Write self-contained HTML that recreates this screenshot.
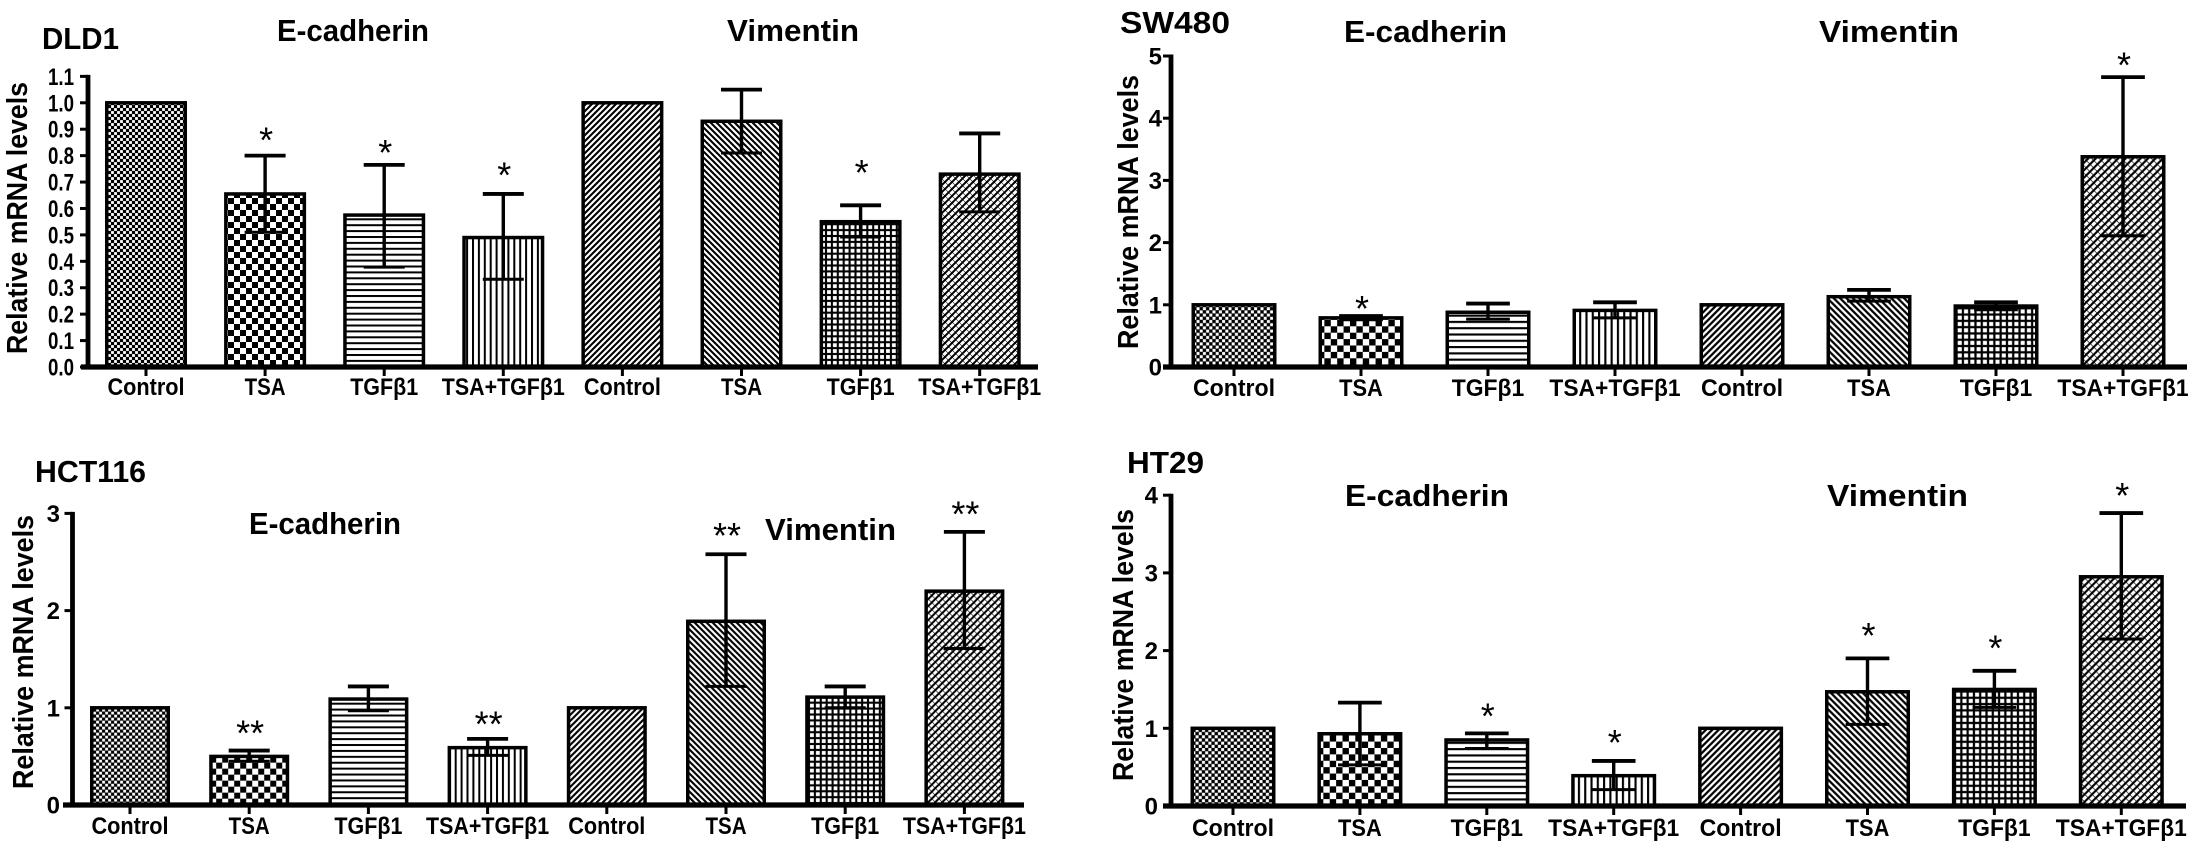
<!DOCTYPE html>
<html lang="en">
<head>
<meta charset="utf-8">
<title>Relative mRNA levels of E-cadherin and Vimentin</title>
<style>
html,body{margin:0;padding:0;background:#fff;}
svg{display:block;}
text{font-family:"Liberation Sans",sans-serif;font-weight:bold;fill:#000;}
</style>
</head>
<body>
<svg id="figure" xmlns="http://www.w3.org/2000/svg" width="2199" height="856" viewBox="0 0 2199 856">
<rect width="2199" height="856" fill="#fff"/>
<defs id="defs"></defs>

<g>
<text x="42" y="49" font-size="31" textLength="77" lengthAdjust="spacingAndGlyphs">DLD1</text>
<text x="277" y="41" font-size="31" textLength="152" lengthAdjust="spacingAndGlyphs">E-cadherin</text>
<text x="727" y="41" font-size="31" textLength="132" lengthAdjust="spacingAndGlyphs">Vimentin</text>
<text transform="translate(27,218) rotate(-90)" text-anchor="middle" font-size="29" textLength="272" lengthAdjust="spacingAndGlyphs">Relative mRNA levels</text>
</g>
<g>
<text x="1120" y="33" font-size="31" textLength="110" lengthAdjust="spacingAndGlyphs">SW480</text>
<text x="1344" y="42" font-size="31" textLength="163" lengthAdjust="spacingAndGlyphs">E-cadherin</text>
<text x="1819" y="42" font-size="31" textLength="140" lengthAdjust="spacingAndGlyphs">Vimentin</text>
<text transform="translate(1138,212) rotate(-90)" text-anchor="middle" font-size="29" textLength="274" lengthAdjust="spacingAndGlyphs">Relative mRNA levels</text>
</g>
<g>
<text x="35" y="482" font-size="31" textLength="111" lengthAdjust="spacingAndGlyphs">HCT116</text>
<text x="249" y="534" font-size="31" textLength="152" lengthAdjust="spacingAndGlyphs">E-cadherin</text>
<text x="765" y="540" font-size="31" textLength="131" lengthAdjust="spacingAndGlyphs">Vimentin</text>
<text transform="translate(33,652) rotate(-90)" text-anchor="middle" font-size="29" textLength="274" lengthAdjust="spacingAndGlyphs">Relative mRNA levels</text>
</g>
<g>
<text x="1127" y="473" font-size="31" textLength="77" lengthAdjust="spacingAndGlyphs">HT29</text>
<text x="1345" y="506" font-size="31" textLength="164" lengthAdjust="spacingAndGlyphs">E-cadherin</text>
<text x="1827" y="506" font-size="31" textLength="141" lengthAdjust="spacingAndGlyphs">Vimentin</text>
<text transform="translate(1133,645) rotate(-90)" text-anchor="middle" font-size="29" textLength="272" lengthAdjust="spacingAndGlyphs">Relative mRNA levels</text>
</g>
</svg>

<script>
// Shared categories
var categories = ["Control", "TSA", "TGFβ1", "TSA+TGFβ1", "Control", "TSA", "TGFβ1", "TSA+TGFβ1"];
var hatchKinds = ["fine", "check", "hlines", "vlines", "diagup", "diagdown", "grid", "hatch"];

// DLD1
var dld1Ticks = ["0.0", "0.1", "0.2", "0.3", "0.4", "0.5", "0.6", "0.7", "0.8", "0.9", "1.0", "1.1"];
var dld1Values = [1.0, 0.655, 0.575, 0.49, 1.0, 0.93, 0.55, 0.73];
var dld1ErrHigh = [null, 0.80, 0.765, 0.655, null, 1.05, 0.612, 0.884];
var dld1ErrLow = [null, 0.51, 0.378, 0.332, null, 0.81, 0.492, 0.587];
var dld1Stars = ["", "*", "*", "*", "", "", "*", ""];
var dld1StarLevels = [null, 0.883, 0.836, 0.751, null, null, 0.761, null];

// SW480
var sw480Ticks = ["0", "1", "2", "3", "4", "5"];
var sw480Values = [1.0, 0.79, 0.88, 0.91, 1.0, 1.13, 0.98, 3.38];
var sw480ErrHigh = [null, 0.82, 1.02, 1.04, null, 1.24, 1.04, 4.66];
var sw480ErrLow = [null, 0.76, 0.77, 0.79, null, 1.06, 0.92, 2.11];
var sw480Stars = ["", "*", "", "", "", "", "", "*"];
var sw480StarLevels = [null, 1.046, null, null, null, null, null, 4.96];

// HCT116
var hct116Ticks = ["0", "1", "2", "3"];
var hct116Values = [1.0, 0.50, 1.09, 0.59, 1.0, 1.89, 1.11, 2.20];
var hct116ErrHigh = [null, 0.56, 1.22, 0.68, null, 2.58, 1.22, 2.81];
var hct116ErrLow = [null, 0.45, 0.97, 0.51, null, 1.22, 1.0, 1.61];
var hct116Stars = ["", "**", "", "**", "", "**", "", "**"];
var hct116StarLevels = [null, 0.806, null, 0.898, null, 2.84, null, 3.06];

// HT29
var ht29Ticks = ["0", "1", "2", "3", "4"];
var ht29Values = [1.0, 0.93, 0.85, 0.39, 1.0, 1.47, 1.50, 2.95];
var ht29ErrHigh = [null, 1.33, 0.935, 0.58, null, 1.90, 1.74, 3.77];
var ht29ErrLow = [null, 0.53, 0.74, 0.21, null, 1.05, 1.27, 2.15];
var ht29Stars = ["", "", "*", "*", "", "*", "*", "*"];
var ht29StarLevels = [null, null, 1.245, 0.90, null, 2.28, 2.12, 4.08];

var NS = "http://www.w3.org/2000/svg";
var svg = document.getElementById("figure");
var defs = document.getElementById("defs");

function make(tag, attrs, parent) {
  var el = document.createElementNS(NS, tag);
  for (var k in attrs) el.setAttribute(k, attrs[k]);
  if (parent) parent.appendChild(el);
  return el;
}

function addPatterns(suffix, scale) {
  var t = "scale(" + scale + ")";
  var p;
  p = make("pattern", {id: "fine" + suffix, width: 6, height: 6, patternUnits: "userSpaceOnUse", patternTransform: t}, defs);
  make("rect", {width: 6, height: 6, fill: "#000"}, p);
  make("rect", {x: 0.1, y: 0.1, width: 2.8, height: 2.8, fill: "#fff"}, p);
  make("rect", {x: 3.1, y: 3.1, width: 2.8, height: 2.8, fill: "#fff"}, p);

  p = make("pattern", {id: "check" + suffix, width: 12, height: 12, patternUnits: "userSpaceOnUse", patternTransform: t}, defs);
  make("rect", {width: 12, height: 12, fill: "#000"}, p);
  make("rect", {x: 0, y: 0, width: 6, height: 6, fill: "#fff"}, p);
  make("rect", {x: 6, y: 6, width: 6, height: 6, fill: "#fff"}, p);

  p = make("pattern", {id: "hlines" + suffix, width: 6, height: 5.9, patternUnits: "userSpaceOnUse", patternTransform: t}, defs);
  make("rect", {width: 6, height: 5.9, fill: "#fff"}, p);
  make("rect", {x: 0, y: 0, width: 6, height: 2, fill: "#000"}, p);

  p = make("pattern", {id: "vlines" + suffix, width: 5.9, height: 6, patternUnits: "userSpaceOnUse", patternTransform: t}, defs);
  make("rect", {width: 5.9, height: 6, fill: "#fff"}, p);
  make("rect", {x: 0, y: 0, width: 2, height: 6, fill: "#000"}, p);

  p = make("pattern", {id: "diagup" + suffix, width: 6, height: 6, patternUnits: "userSpaceOnUse", patternTransform: t}, defs);
  make("rect", {width: 6, height: 6, fill: "#fff"}, p);
  make("path", {d: "M-1.5,1.5L1.5,-1.5M-1.5,7.5L7.5,-1.5M4.5,7.5L7.5,4.5", stroke: "#000", "stroke-width": 2.1}, p);

  p = make("pattern", {id: "diagdown" + suffix, width: 6, height: 6, patternUnits: "userSpaceOnUse", patternTransform: t}, defs);
  make("rect", {width: 6, height: 6, fill: "#fff"}, p);
  make("path", {d: "M-1.5,4.5L1.5,7.5M-1.5,-1.5L7.5,7.5M4.5,-1.5L7.5,1.5", stroke: "#000", "stroke-width": 2.1}, p);

  p = make("pattern", {id: "grid" + suffix, width: 5.9, height: 5.9, patternUnits: "userSpaceOnUse", patternTransform: t}, defs);
  make("rect", {width: 5.9, height: 5.9, fill: "#000"}, p);
  make("rect", {x: 1.05, y: 1.05, width: 3.8, height: 3.8, fill: "#fff"}, p);

  p = make("pattern", {id: "hatch" + suffix, width: 7, height: 7, patternUnits: "userSpaceOnUse", patternTransform: t}, defs);
  make("rect", {width: 7, height: 7, fill: "#fff"}, p);
  make("path", {d: "M-1.5,1.5L1.5,-1.5M-1.5,8.5L8.5,-1.5M5.5,8.5L8.5,5.5", stroke: "#000", "stroke-width": 2}, p);
  make("path", {d: "M-1.5,-1.5L8.5,8.5", stroke: "#000", "stroke-width": 0.6}, p);
}

function drawPanel(cfg) {
  var scale = cfg.step / 119.1;
  addPatterns(cfg.key, scale);
  var yPos = function (v) { return cfg.y0 - v * cfg.unit; };
  var xPos = function (i) { return cfg.first + i * cfg.step; };

  var g = make("g", {}, svg);
  
  

  // bars
  cfg.values.forEach(function (v, i) {
    var bar = make("rect", {
      x: xPos(i) - cfg.barW / 2 + 1.75,
      y: yPos(v),
      width: cfg.barW - 3.5,
      height: cfg.y0 - yPos(v),
      fill: "url(#" + hatchKinds[i] + cfg.key + ")",
      stroke: "#000",
      "stroke-width": 3.5
    }, g);
    
    
  });

  // error bars
  cfg.high.forEach(function (hi, i) {
    if (hi === null) return;
    var lo = cfg.low[i];
    var cx = xPos(i);
    var capW = 41 * scale;
    var eb = make("g", {stroke: "#000", fill: "none"}, g);
    
    
    make("line", {x1: cx, x2: cx, y1: yPos(hi), y2: yPos(lo), "stroke-width": 3.4}, eb);
    make("line", {x1: cx - capW / 2, x2: cx + capW / 2, y1: yPos(hi), y2: yPos(hi), "stroke-width": 3.8}, eb);
    make("line", {x1: cx - capW / 2, x2: cx + capW / 2, y1: yPos(lo), y2: yPos(lo), "stroke-width": 3}, eb);
  });

  // significance stars
  cfg.stars.forEach(function (s, i) {
    if (!s) return;
    var st = make("text", {
      x: xPos(i) + 1,
      y: yPos(cfg.starLevels[i]) + 19,
      "text-anchor": "middle",
      "font-size": 36,
      style: "font-weight:normal"
    }, g);
    
    
    st.textContent = s;
  });

  // y axis
  var yAxis = make("line", {
    x1: cfg.axisX, x2: cfg.axisX,
    y1: yPos(cfg.ticks.length ? parseFloat(cfg.ticks[cfg.ticks.length - 1]) : 0) - 1.5,
    y2: cfg.y0, stroke: "#000", "stroke-width": 4.8
  }, g);
  
  

  cfg.ticks.forEach(function (t) {
    var y = yPos(parseFloat(t));
    var tick = make("line", {x1: cfg.axisX - 8, x2: cfg.axisX, y1: y, y2: y, stroke: "#000", "stroke-width": 3}, g);
    
    
    var lab = make("text", {x: cfg.labelRight, y: y + 8.5, "text-anchor": "end", "font-size": 24}, g);
    if (t.length > 1) {
      lab.setAttribute("textLength", 26);
      lab.setAttribute("lengthAdjust", "spacingAndGlyphs");
    }
    
    
    lab.textContent = t;
  });

  // x axis
  var xAxis = make("line", {x1: cfg.baseFrom, x2: cfg.baseTo, y1: cfg.y0, y2: cfg.y0, stroke: "#000", "stroke-width": 5.2}, g);
  
  

  var widths = {"Control": 77, "TSA": 41, "TGFβ1": 68, "TSA+TGFβ1": 123};
  categories.forEach(function (c, i) {
    var cx = xPos(i);
    var tk = make("line", {x1: cx, x2: cx, y1: cfg.y0, y2: cfg.y0 + 9, stroke: "#000", "stroke-width": 3}, g);
    
    
    var lab = make("text", {
      x: cx, y: cfg.y0 + cfg.labelDrop, "text-anchor": "middle", "font-size": 24,
      textLength: widths[c] * scale, lengthAdjust: "spacingAndGlyphs"
    }, g);
    
    
    lab.textContent = c;
  });
}

drawPanel({key: "dld1", values: dld1Values, high: dld1ErrHigh, low: dld1ErrLow, stars: dld1Stars, starLevels: dld1StarLevels, ticks: dld1Ticks,
  axisX: 88, y0: 367, unit: 264.2, first: 146, step: 119.1, barW: 82, baseFrom: 81, baseTo: 1038, labelRight: 74, labelDrop: 28});
drawPanel({key: "sw480", values: sw480Values, high: sw480ErrHigh, low: sw480ErrLow, stars: sw480Stars, starLevels: sw480StarLevels, ticks: sw480Ticks,
  axisX: 1171, y0: 367, unit: 62.2, first: 1234, step: 127, barW: 85, baseFrom: 1163, baseTo: 2187, labelRight: 1162, labelDrop: 29});
drawPanel({key: "hct116", values: hct116Values, high: hct116ErrHigh, low: hct116ErrLow, stars: hct116Stars, starLevels: hct116StarLevels, ticks: hct116Ticks,
  axisX: 72.5, y0: 805, unit: 97.2, first: 130, step: 119.2, barW: 80, baseFrom: 63, baseTo: 1024, labelRight: 60, labelDrop: 29});
drawPanel({key: "ht29", values: ht29Values, high: ht29ErrHigh, low: ht29ErrLow, stars: ht29Stars, starLevels: ht29StarLevels, ticks: ht29Ticks,
  axisX: 1171, y0: 806, unit: 77.7, first: 1233, step: 126.9, barW: 85, baseFrom: 1163, baseTo: 2186, labelRight: 1158, labelDrop: 30});
</script>
</body>
</html>
